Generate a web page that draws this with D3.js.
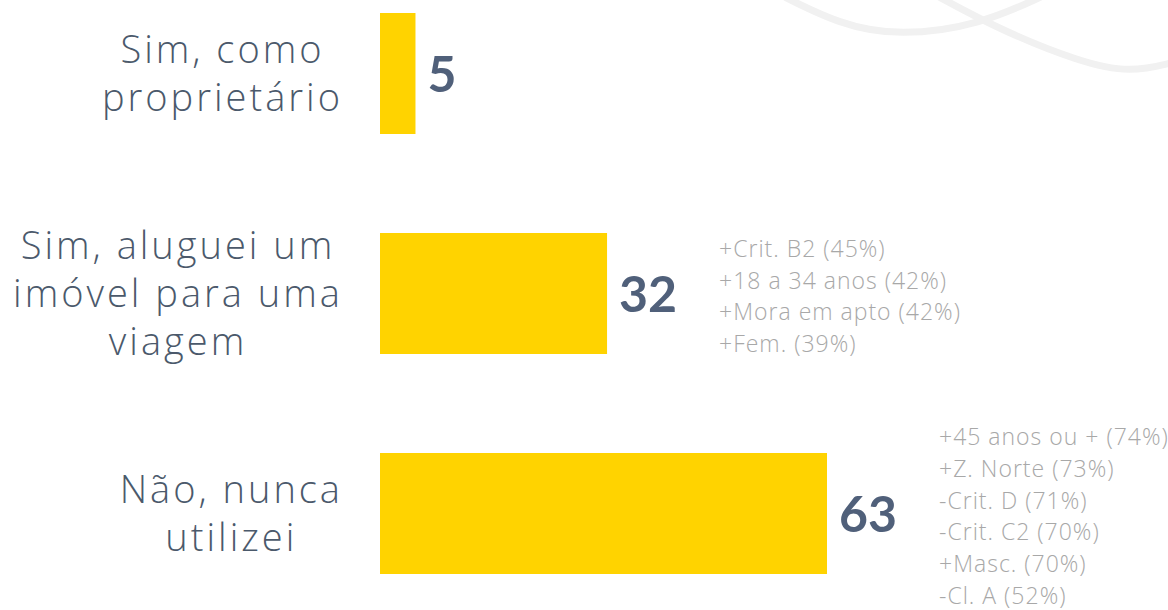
<!DOCTYPE html>
<html>
<head>
<meta charset="utf-8">
<script src="https://cdn.jsdelivr.net/npm/d3@7"></script>
<style>
  body { margin: 0; background: #fff; }
  svg { display: block; }
  .cat-label { font-family: "Open Sans", Lato, sans-serif; font-size: 38px; font-weight: 300; letter-spacing: 3px; fill: #4b596b; }
  .val-label { font-family: Lato, "Open Sans", sans-serif; font-size: 50px; font-weight: 700; fill: #50607a; }
  .note-label { font-family: "Open Sans", Lato, sans-serif; font-size: 23px; font-weight: 300; letter-spacing: 1px; fill: #a8a8a8; }
</style>
</head>
<body>
<svg id="chart" width="1168" height="610"></svg>
<script>
const categories = [
  ['Sim, como', 'proprietário'],
  ['Sim, aluguei um', 'imóvel para uma', 'viagem'],
  ['Não, nunca', 'utilizei']
];
const values = [5, 32, 63];
const notes = [
  [],
  ['+Crit. B2 (45%)', '+18 a 34 anos (42%)', '+Mora em apto (42%)', '+Fem. (39%)'],
  ['+45 anos ou + (74%)', '+Z. Norte (73%)', '-Crit. D (71%)', '-Crit. C2 (70%)', '+Masc. (70%)', '-Cl. A (52%)']
];

const svg = d3.select('#chart');

// faint background swooshes
const deco = svg.append('g').attr('class', 'deco');
const swoosh = d3.line().curve(d3.curveBasis);
deco.append('path')
  .attr('d', swoosh([[775, -8], [840, 25], [900, 36], [980, 25], [1045, -5]]))
  .attr('fill', 'none').attr('stroke', '#f1f1f1').attr('stroke-width', 7);
deco.append('path')
  .attr('d', swoosh([[930, -8], [1000, 30], [1080, 62], [1130, 73], [1175, 62]]))
  .attr('fill', 'none').attr('stroke', '#f1f1f1').attr('stroke-width', 7);

const idx = d3.range(values.length);
const x = d3.scaleLinear().domain([0, 63]).range([380, 827]);
const y = d3.scaleBand().domain(idx).range([-36.5, 623.5]).paddingInner(0.45).paddingOuter(0.225);

const g = svg.append('g');

g.selectAll('rect.bar')
  .data(idx)
  .join('rect')
  .attr('class', 'bar')
  .attr('x', x(0))
  .attr('y', i => y(i))
  .attr('width', i => x(values[i]) - x(0))
  .attr('height', y.bandwidth())
  .attr('fill', '#ffd300');

g.selectAll('text.val-label')
  .data(idx)
  .join('text')
  .attr('class', 'val-label')
  .attr('x', i => x(values[i]) + 12)
  .attr('y', i => y(i) + y.bandwidth() / 2)
  .attr('dy', '0.36em')
  .text(i => values[i]);

// category labels: block right-aligned at 340, lines centred in the block
const lineH = 48;
idx.forEach(i => {
  const lines = categories[i];
  const texts = g.append('g').selectAll('text')
    .data(lines)
    .join('text')
    .attr('class', 'cat-label')
    .attr('text-anchor', 'middle')
    .attr('y', (d, k) => y(i) + y.bandwidth() / 2 + (k - (lines.length - 1) / 2) * lineH)
    .attr('dy', '0.35em')
    .text(d => d);
  const maxW = d3.max(texts.nodes(), n => n.getComputedTextLength());
  texts.attr('x', 343 - maxW / 2);
});

// side notes
const noteH = 31.7;
idx.forEach(i => {
  const lines = notes[i];
  g.append('g').selectAll('text')
    .data(lines)
    .join('text')
    .attr('class', 'note-label')
    .attr('x', x(values[i]) + 112)
    .attr('y', (d, k) => y(i) + y.bandwidth() / 2 + 3 + (k - (lines.length - 1) / 2) * noteH)
    .attr('dy', '0.35em')
    .text(d => d);
});
</script>
</body>
</html>
